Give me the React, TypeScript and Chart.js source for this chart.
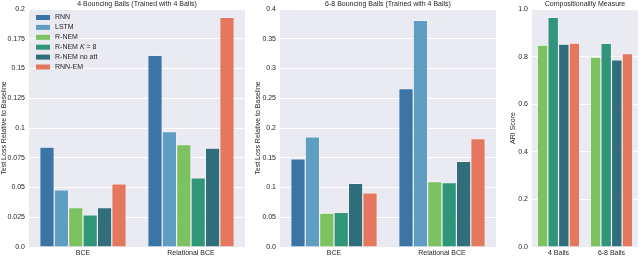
import React, { useEffect, useRef } from "react";
import { Chart, registerables } from "chart.js";
Chart.register(...registerables);

const seriesNames = ["RNN", "LSTM", "R-NEM", "R-NEM K = 8", "R-NEM no att", "RNN-EM"];
const seriesColors = ["#3a75a6", "#5f9dc3", "#7cc261", "#31957a", "#306e7c", "#e5775f"];

// Panel 1: 4 Bouncing Balls
const p1Title = "4 Bouncing Balls (Trained with 4 Balls)";
const p1Categories = ["BCE", "Relational BCE"];
const p1RNN = [0.084, 0.161];
const p1LSTM = [0.048, 0.097];
const p1RNEM = [0.033, 0.086];
const p1RNEMK8 = [0.027, 0.058];
const p1RNEMNoAtt = [0.033, 0.083];
const p1RNNEM = [0.053, 0.193];
const p1TickValues = [0, 0.025, 0.05, 0.075, 0.1, 0.125, 0.15, 0.175, 0.2];
const p1TickLabels = ["0.0", "0.025", "0.05", "0.075", "0.1", "0.125", "0.15", "0.175", "0.2"];

// Panel 2: 6-8 Bouncing Balls
const p2Title = "6-8 Bouncing Balls (Trained with 4 Balls)";
const p2Categories = ["BCE", "Relational BCE"];
const p2RNN = [0.148, 0.266];
const p2LSTM = [0.185, 0.381];
const p2RNEM = [0.057, 0.110];
const p2RNEMK8 = [0.058, 0.108];
const p2RNEMNoAtt = [0.107, 0.144];
const p2RNNEM = [0.091, 0.182];
const p2TickValues = [0, 0.05, 0.1, 0.15, 0.2, 0.25, 0.3, 0.35, 0.4];
const p2TickLabels = ["0.0", "0.05", "0.1", "0.15", "0.2", "0.25", "0.3", "0.35", "0.4"];

// Panel 3: Compositionality Measure
const p3Title = "Compositionality Measure";
const p3Categories = ["4 Balls", "6-8 Balls"];
const p3RNEM = [0.848, 0.798];
const p3RNEMK8 = [0.965, 0.855];
const p3RNEMNoAtt = [0.852, 0.786];
const p3RNNEM = [0.856, 0.812];
const p3TickValues = [0, 0.2, 0.4, 0.6, 0.8, 1.0];
const p3TickLabels = ["0.0", "0.2", "0.4", "0.6", "0.8", "1.0"];

const yTitleLoss = "Test Loss Relative to Baseline";
const yTitleARI = "ARI Score";

const FONT = "'Liberation Sans', Arial, sans-serif";
const TEXT = "#262626";

type PanelProps = {
  left: number;
  width: number;
  title: string;
  yTitle: string;
  categories: string[];
  series: { idx: number; data: number[] }[];
  tickValues: number[];
  tickLabels: string[];
  yWidth: number;
  padRight: number;
  legend?: boolean;
};

function Panel(p: PanelProps) {
  const ref = useRef<HTMLCanvasElement>(null);
  useEffect(() => {
    const canvas = ref.current!;
    const bgPlugin = {
      id: "bg",
      beforeDraw(chart: any) {
        const { ctx, chartArea } = chart;
        ctx.save();
        ctx.fillStyle = "#eaeaf2";
        ctx.fillRect(chartArea.left, chartArea.top, chartArea.right - chartArea.left, chartArea.bottom - chartArea.top);
        ctx.restore();
      },
      afterDraw(chart: any) {
        const { ctx, chartArea } = chart;
        ctx.save();
        ctx.fillStyle = TEXT;
        ctx.font = `7px ${FONT}`;
        ctx.textAlign = "center";
        ctx.textBaseline = "middle";
        ctx.fillText(p.title, (chartArea.left + chartArea.right) / 2, 4.5);
        if (p.legend) {
          ctx.textAlign = "left";
          seriesNames.forEach((name, i) => {
            const y = 17.5 + i * 9.9;
            ctx.fillStyle = seriesColors[i];
            ctx.fillRect(chartArea.left + 7, y - 2.5, 14, 5);
            ctx.fillStyle = TEXT;
            let x = chartArea.left + 26;
            if (name.includes(" K ")) {
              const [a, b] = name.split("K");
              ctx.font = `7px ${FONT}`;
              ctx.fillText(a, x, y);
              x += ctx.measureText(a).width;
              ctx.font = `italic 7px ${FONT}`;
              ctx.fillText("K", x, y);
              x += ctx.measureText("K").width;
              ctx.font = `7px ${FONT}`;
              ctx.fillText(b, x, y);
            } else {
              ctx.font = `7px ${FONT}`;
              ctx.fillText(name, x, y);
            }
          });
        }
        ctx.restore();
      },
    };
    const chart = new Chart(canvas, {
      type: "bar",
      data: {
        labels: p.categories,
        datasets: p.series.map((s) => ({
          label: seriesNames[s.idx],
          data: s.data,
          backgroundColor: seriesColors[s.idx],
          borderColor: "rgba(255,255,255,0.85)",
          borderWidth: 0.6,
          categoryPercentage: 0.8,
          barPercentage: 1.0,
        })),
      },
      options: {
        responsive: false,
        animation: false,
        layout: { padding: { top: 9, right: p.padRight, left: 0, bottom: 0 } },
        plugins: { legend: { display: false }, title: { display: false }, tooltip: { enabled: false } },
        scales: {
          x: {
            grid: { display: false, drawTicks: false },
            border: { display: false },
            ticks: { color: TEXT, font: { family: FONT, size: 7 }, padding: 2, maxRotation: 0 },
            afterFit: (scale: any) => {
              scale.height = 28;
            },
          },
          y: {
            min: p.tickValues[0],
            max: p.tickValues[p.tickValues.length - 1],
            grid: { color: "#ffffff", lineWidth: 1, drawTicks: false },
            border: { display: false },
            ticks: {
              color: TEXT,
              font: { family: FONT, size: 7 },
              padding: 4,
              callback: (_v: any, i: number) => p.tickLabels[i],
            },
            afterBuildTicks: (scale: any) => {
              scale.ticks = p.tickValues.map((v) => ({ value: v }));
            },
            afterFit: (scale: any) => {
              scale.width = p.yWidth;
            },
            title: {
              display: true,
              text: p.yTitle,
              color: TEXT,
              font: { family: FONT, size: 7 },
              padding: { top: 0, bottom: 0 },
            },
          },
        },
      },
      plugins: [bgPlugin],
    } as any);
    return () => chart.destroy();
  }, []);
  return (
    <canvas
      ref={ref}
      width={p.width}
      height={275}
      style={{ position: "absolute", left: p.left, top: 0, width: p.width, height: 275 }}
    />
  );
}

export default function App() {
  return (
    <div style={{ position: "absolute", left: 0, top: 0, width: 640, height: 275, background: "#ffffff", overflow: "hidden" }}>
      <Panel
        left={0}
        width={250}
        title={p1Title}
        yTitle={yTitleLoss}
        categories={p1Categories}
        series={[
          { idx: 0, data: p1RNN },
          { idx: 1, data: p1LSTM },
          { idx: 2, data: p1RNEM },
          { idx: 3, data: p1RNEMK8 },
          { idx: 4, data: p1RNEMNoAtt },
          { idx: 5, data: p1RNNEM },
        ]}
        tickValues={p1TickValues}
        tickLabels={p1TickLabels}
        yWidth={29}
        padRight={5}
        legend
      />
      <Panel
        left={254}
        width={246}
        title={p2Title}
        yTitle={yTitleLoss}
        categories={p2Categories}
        series={[
          { idx: 0, data: p2RNN },
          { idx: 1, data: p2LSTM },
          { idx: 2, data: p2RNEM },
          { idx: 3, data: p2RNEMK8 },
          { idx: 4, data: p2RNEMNoAtt },
          { idx: 5, data: p2RNNEM },
        ]}
        tickValues={p2TickValues}
        tickLabels={p2TickLabels}
        yWidth={26}
        padRight={4}
      />
      <Panel
        left={509}
        width={131}
        title={p3Title}
        yTitle={yTitleARI}
        categories={p3Categories}
        series={[
          { idx: 2, data: p3RNEM },
          { idx: 3, data: p3RNEMK8 },
          { idx: 4, data: p3RNEMNoAtt },
          { idx: 5, data: p3RNNEM },
        ]}
        tickValues={p3TickValues}
        tickLabels={p3TickLabels}
        yWidth={23}
        padRight={2}
      />
    </div>
  );
}
